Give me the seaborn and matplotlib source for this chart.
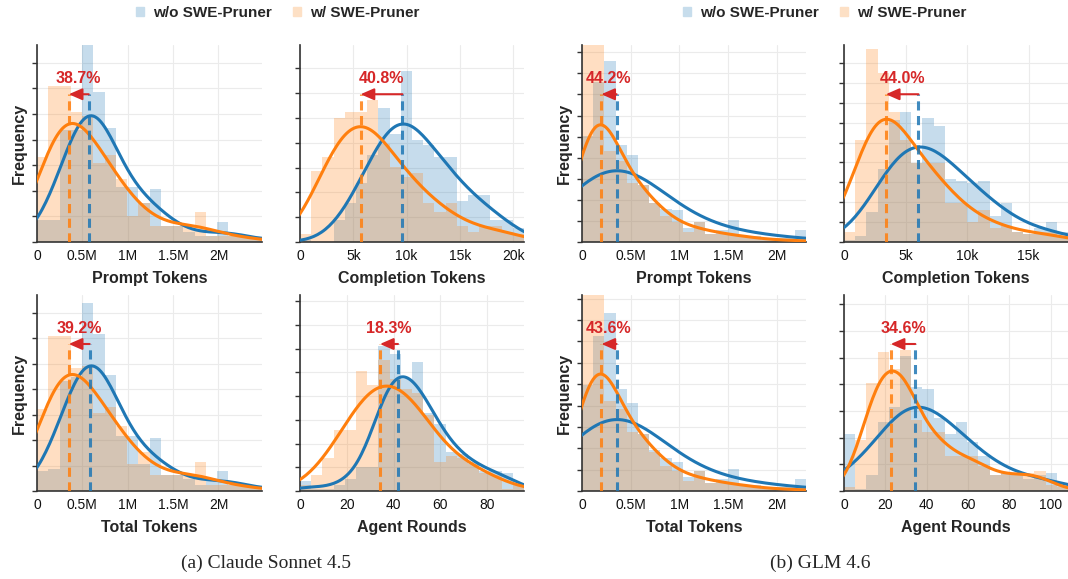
import matplotlib

matplotlib.use("Agg")

import matplotlib.pyplot as plt
import numpy as np
import seaborn as sns
from matplotlib.patches import Patch
from matplotlib.ticker import FuncFormatter

# Bars: 20 equal bins from 0 to *_xmax,
# heights in % of the panel height (the y axis has no numbers).
claude_prompt_xmax = 2.48e6
claude_prompt_wo = [11, 11, 57, 57, 100, 76, 58, 28, 28, 20, 27, 8, 8, 5, 3, 3, 10, 3, 3, 3]
claude_prompt_w = [43, 79, 79, 66, 64, 40, 44, 32, 13, 20, 8, 8, 8, 8, 15, 3, 3, 3, 3, 2]

claude_completion_xmax = 21.0e3
claude_completion_wo = [1, 0, 0, 11, 20, 30, 44, 68, 55, 87, 52, 49, 43, 43, 21, 24, 24, 11, 11, 7]
claude_completion_w = [4, 36, 43, 63, 66, 66, 72, 50, 38, 33, 35, 20, 15, 20, 8, 5, 8, 8, 5, 4]

claude_total_xmax = 2.48e6
claude_total_wo = [10, 11, 56, 58, 96, 80, 59, 28, 28, 14, 27, 8, 8, 6, 3, 5, 10, 3, 3, 3]
claude_total_w = [42, 79, 79, 63, 64, 40, 43, 33, 14, 20, 8, 8, 8, 8, 15, 3, 3, 3, 3, 2]

claude_rounds_xmax = 95.8
claude_rounds_wo = [5, 1, 1, 3, 6, 12, 12, 74, 70, 57, 66, 40, 34, 20, 19, 15, 10, 10, 9, 3]
claude_rounds_w = [3, 8, 17, 31, 31, 61, 54, 67, 57, 52, 50, 39, 15, 18, 17, 14, 9, 8, 1, 3]

glm_prompt_xmax = 2.3e6
glm_prompt_wo = [54, 81, 92, 49, 44, 29, 20, 17, 16, 7, 10, 4, 6, 11, 3, 3, 2, 2, 2, 6]
glm_prompt_w = [100, 100, 46, 41, 30, 29, 20, 13, 10, 5, 10, 4, 4, 4, 3, 2, 1, 1, 1, 1]

glm_completion_xmax = 18.2e3
glm_completion_wo = [1, 3, 15, 37, 62, 66, 40, 63, 59, 32, 31, 30, 31, 13, 20, 5, 4, 7, 10, 5]
glm_completion_w = [5, 52, 98, 86, 66, 52, 40, 40, 40, 20, 20, 10, 16, 7, 8, 5, 4, 5, 5, 3]

glm_total_xmax = 2.3e6
glm_total_wo = [54, 79, 91, 52, 45, 29, 21, 17, 15, 7, 10, 4, 6, 11, 3, 3, 2, 2, 2, 6]
glm_total_w = [100, 100, 46, 42, 30, 29, 20, 13, 10, 5, 10, 4, 4, 4, 3, 2, 1, 1, 1, 1]

glm_rounds_xmax = 108.4
glm_rounds_wo = [29, 1, 8, 35, 43, 69, 53, 52, 37, 29, 35, 25, 18, 8, 9, 8, 6, 8, 9, 3]
glm_rounds_w = [2, 26, 55, 71, 62, 72, 36, 30, 30, 18, 18, 18, 13, 8, 9, 8, 9, 10, 3, 2]

# peak positions (dashed lines) and reduction labels
modes_wo = [0.57e6, 9.6e3, 0.58e6, 41.9, 0.355e6, 6.05e3, 0.355e6, 34.5]
modes_w = [0.35e6, 5.68e3, 0.35e6, 34.2, 0.198e6, 3.4e3, 0.2e6, 22.6]
reduction_labels = ["38.7%", "40.8%", "39.2%", "18.3%", "44.2%", "44.0%", "43.6%", "34.6%"]

x_labels = ["Prompt Tokens", "Completion Tokens", "Total Tokens", "Agent Rounds"] * 2
legend_labels = ["w/o SWE-Pruner", "w/ SWE-Pruner"]
captions = ["(a) Claude Sonnet 4.5", "(b) GLM 4.6"]

BLUE = "#1f77b4"
ORANGE = "#ff7f0e"
RED = "#d62728"

sns.set_style("whitegrid", {"grid.color": "#ebebeb", "axes.edgecolor": "#333333"})
plt.rcParams["font.family"] = ["Liberation Sans", "DejaVu Sans"]

W, H = 1068, 579
fig = plt.figure(figsize=(W / 100, H / 100), dpi=100)


def add_axes(left, top, right, bottom):
    return fig.add_axes([left / W, 1 - bottom / H, (right - left) / W, (bottom - top) / H])


def fmt_millions(x, pos):
    return "0" if x == 0 else f"{x / 1e6:g}M"


def fmt_thousands(x, pos):
    return "0" if x == 0 else f"{x / 1e3:g}k"


panels = [
    (claude_prompt_xmax, claude_prompt_wo, claude_prompt_w),
    (claude_completion_xmax, claude_completion_wo, claude_completion_w),
    (claude_total_xmax, claude_total_wo, claude_total_w),
    (claude_rounds_xmax, claude_rounds_wo, claude_rounds_w),
    (glm_prompt_xmax, glm_prompt_wo, glm_prompt_w),
    (glm_completion_xmax, glm_completion_wo, glm_completion_w),
    (glm_total_xmax, glm_total_wo, glm_total_w),
    (glm_rounds_xmax, glm_rounds_wo, glm_rounds_w),
]

# layout (pixels) and per-panel styling
col_lr = [(37, 262), (300, 524), (582, 806), (844, 1068)]
row_tb = [(45, 242), (295, 491)]
xticks = [
    [0, 0.5e6, 1e6, 1.5e6, 2e6], [0, 5e3, 10e3, 15e3, 20e3],
    [0, 0.5e6, 1e6, 1.5e6, 2e6], [0, 20, 40, 60, 80],
    [0, 0.5e6, 1e6, 1.5e6, 2e6], [0, 5e3, 10e3, 15e3],
    [0, 0.5e6, 1e6, 1.5e6, 2e6], [0, 20, 40, 60, 80, 100],
]
ysteps = [13, 12.6, 13, 12.1, 10.7, 10.1, 10.9, 13.6]
bw_wo = [0.75, 0.8, 0.75, 0.7, 1.4, 1.0, 1.4, 1.0]
bw_w = [0.75, 0.8, 0.75, 0.9, 0.65, 0.8, 0.65, 0.5]

for i, (xmax, wo, w) in enumerate(panels):
    group, k = divmod(i, 4)
    row, col = divmod(k, 2)
    left, right = col_lr[group * 2 + col]
    top, bottom = row_tb[row]
    ax = add_axes(left, top, right, bottom)

    step = xmax / len(wo)
    centers = [(j + 0.5) * step for j in range(len(wo))]
    for counts, color, bw in [(wo, BLUE, bw_wo[i]), (w, ORANGE, bw_w[i])]:
        sns.histplot(
            x=centers, weights=counts, bins=len(counts), binrange=(0, xmax),
            kde=True, kde_kws=dict(bw_adjust=bw, cut=3),
            line_kws=dict(lw=2.2, zorder=3),
            color=color, alpha=0.25, linewidth=0, ax=ax,
        )

    ax.axvline(modes_wo[i], 0, 0.75, color=BLUE, ls=(0, (3, 1.8)), lw=2.2, alpha=0.85, zorder=4)
    ax.axvline(modes_w[i], 0, 0.75, color=ORANGE, ls=(0, (3, 1.8)), lw=2.2, alpha=0.85, zorder=4)
    trans = ax.get_xaxis_transform()
    ax.annotate(
        "", xy=(modes_w[i], 0.75), xytext=(modes_wo[i], 0.75),
        xycoords=trans, textcoords=trans,
        arrowprops=dict(arrowstyle="-|>,head_length=0.8,head_width=0.35", color=RED,
                        lw=1.5, shrinkA=0, shrinkB=0, mutation_scale=10),
        zorder=5,
    )
    ax.text((modes_w[i] + modes_wo[i]) / 2, 0.83, reduction_labels[i], transform=trans,
            ha="center", va="center", color=RED, fontsize=11.5, fontweight="bold", zorder=5)

    ax.set_xlim(0, xmax)
    ax.set_ylim(0, 100)
    ax.set_xticks(xticks[i])
    if xmax > 1e6:
        ax.xaxis.set_major_formatter(FuncFormatter(fmt_millions))
    elif xmax > 1e3:
        ax.xaxis.set_major_formatter(FuncFormatter(fmt_thousands))
    ax.set_yticks(np.arange(0, 100, ysteps[i]))
    ax.tick_params(axis="x", length=0, labelsize=10, pad=5, colors="#111111")
    ax.tick_params(axis="y", left=True, length=3.5, width=1, color="#333333", labelleft=False)
    ax.set_xlabel(x_labels[i], fontsize=11.5, fontweight="bold", labelpad=6)
    if col == 0:
        ax.set_ylabel("Frequency", fontsize=11.5, fontweight="bold", labelpad=4)
    else:
        ax.set_ylabel("")
    ax.spines[["top", "right"]].set_visible(False)
    for s in ["left", "bottom"]:
        ax.spines[s].set_linewidth(1.2)
        ax.spines[s].set_color("#333333")

handles = [Patch(color="#c7ddec"), Patch(color="#fde0c5")]
for cx, cap_x, cap in [(278, 266, captions[0]), (825, 820, captions[1])]:
    fig.legend(handles, legend_labels, loc="center", bbox_to_anchor=(cx / W, 1 - 13 / H),
               ncol=2, frameon=False, handlelength=0.5, handleheight=0.5,
               handletextpad=0.6, columnspacing=1.4,
               prop=dict(weight="bold", size=11))
    fig.text(cap_x / W, 1 - 563 / H, cap, ha="center", va="center",
             family="Liberation Serif", fontsize=14)

fig.savefig("out.png", dpi=100)
